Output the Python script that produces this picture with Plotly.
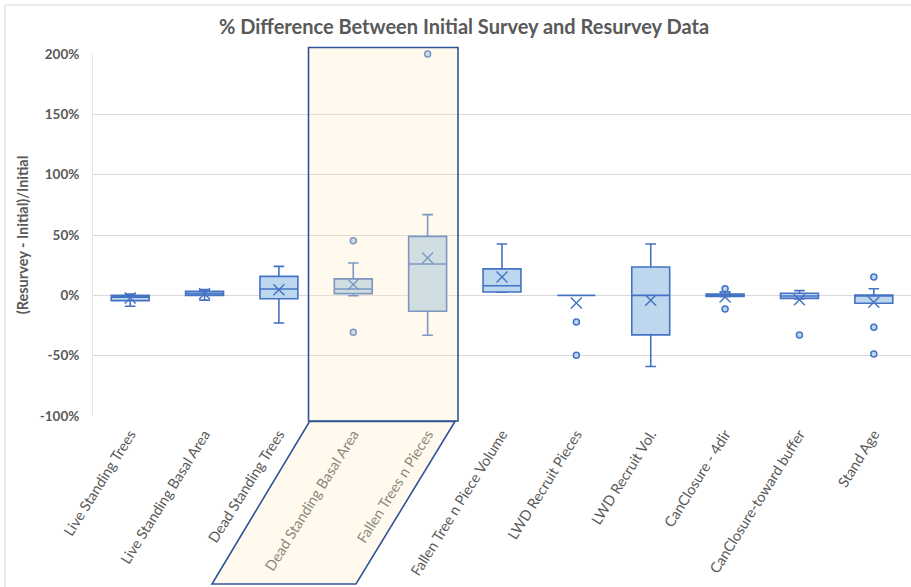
import plotly.graph_objects as go

# Survey metrics compared between the initial survey and the resurvey
categories = [
    "Live Standing Trees", "Live Standing Basal Area", "Dead Standing Trees",
    "Dead Standing Basal Area", "Fallen Trees n Pieces", "Fallen Tree n Piece Volume",
    "LWD Recruit Pieces", "LWD Recruit Vol.", "CanClosure - 4dir",
    "CanClosure-toward buffer", "Stand Age",
]

# Box statistics, percent difference (Resurvey - Initial)/Initial
lower_whisker = [-9.0, -4.0, -22.9, -0.3, -33.1, 2.5, 0.0, -59.0, -1.2, -3.0, -6.6]
q1_values     = [-4.4, 0.0, -2.8, 1.4, -13.2, 2.8, 0.0, -32.8, -1.0, -2.5, -6.6]
median_values = [-1.5, 1.5, 5.3, 5.3, 26.0, 8.0, 0.0, 0.0, 0.0, -0.5, 0.0]
q3_values     = [0.0, 3.3, 15.7, 13.6, 48.9, 21.9, 0.0, 23.5, 1.0, 1.7, 0.3]
upper_whisker = [1.0, 4.7, 24.0, 26.8, 66.9, 42.6, 0.0, 42.6, 2.8, 3.9, 5.5]
mean_values   = [-2.3, 1.4, 4.7, 8.9, 31.0, 15.2, -6.3, -4.1, -1.3, -3.6, -5.8]

# Points beyond the whiskers
outlier_categories = [
    "Dead Standing Basal Area", "Dead Standing Basal Area", "Fallen Trees n Pieces",
    "LWD Recruit Pieces", "LWD Recruit Pieces", "CanClosure - 4dir", "CanClosure - 4dir",
    "CanClosure-toward buffer", "Stand Age", "Stand Age", "Stand Age",
]
outlier_values = [45.3, -30.6, 200.0, -22.0, -49.7, 5.5, -11.3, -32.8, 15.2, -26.5, -48.6]

y_ticks = [-100, -50, 0, 50, 100, 150, 200]
y_tick_labels = ["<b>{}%</b>".format(v) for v in y_ticks]

BLUE = "#4472C4"
LIGHT_BLUE = "#BDD7EE"
DARK_BLUE = "#2F5597"
GREY_TEXT = "#595959"
GRID = "#D9D9D9"
FONT = "Lato, 'Open Sans', sans-serif"

W, H = 911, 587
M_L, M_R, M_T, M_B = 93, 0, 54, 171
PLOT_W = W - M_L - M_R
PLOT_H = H - M_T - M_B


def px_x(px):
    """Horizontal pixel position -> paper fraction."""
    return (px - M_L) / PLOT_W


def px_y(py):
    """Vertical pixel position (from top) -> paper fraction."""
    return (H - M_B - py) / PLOT_H


fig = go.Figure()

fig.add_trace(go.Box(
    x=categories,
    q1=q1_values, median=median_values, q3=q3_values,
    lowerfence=lower_whisker, upperfence=upper_whisker,
    fillcolor=LIGHT_BLUE,
    line=dict(color=BLUE, width=1.6),
    width=0.51,
    whiskerwidth=0.28,
    boxpoints=False,
    hoverinfo="skip",
    showlegend=False,
))

fig.add_trace(go.Scatter(
    x=categories, y=mean_values, mode="markers",
    marker=dict(symbol="x-thin-open", size=11, color=BLUE, line=dict(color=BLUE, width=1.4)),
    showlegend=False, hoverinfo="skip",
))

fig.add_trace(go.Scatter(
    x=outlier_categories, y=outlier_values, mode="markers",
    marker=dict(symbol="circle", size=6, color=LIGHT_BLUE, line=dict(color=BLUE, width=1.5)),
    cliponaxis=False, showlegend=False, hoverinfo="skip",
))

shapes = [
    # chart frame
    dict(type="rect", xref="paper", yref="paper", layer="below",
         x0=px_x(5), x1=px_x(W + 20), y0=px_y(H + 20), y1=px_y(5),
         line=dict(color=GRID, width=1), fillcolor="rgba(0,0,0,0)"),
    # highlight panel around the dead-standing / fallen-trees pair
    dict(type="rect", xref="paper", yref="paper", layer="above",
         x0=px_x(308.5), x1=px_x(458), y0=px_y(421), y1=px_y(47.5),
         line=dict(color=DARK_BLUE, width=1.6), fillcolor="rgba(255,238,195,0.30)"),
    dict(type="path", xref="paper", yref="paper", layer="above",
         path="M {a},{b} L {c},{b} L {d},{e} L {f},{e} Z".format(
             a=px_x(309.5), b=px_y(421.5), c=px_x(455), d=px_x(356), e=px_y(584), f=px_x(212)),
         line=dict(color=DARK_BLUE, width=1.6), fillcolor="rgba(255,238,195,0.30)"),
]

fig.update_layout(
    width=W, height=H,
    margin=dict(l=M_L, r=M_R, t=M_T, b=M_B),
    paper_bgcolor="white", plot_bgcolor="white",
    font=dict(family=FONT, color=GREY_TEXT),
    title=dict(
        text="<b>% Difference Between Initial Survey and Resurvey Data</b>",
        x=464 / W, xanchor="center", y=1 - 27 / H, yanchor="middle",
        font=dict(size=20, color=GREY_TEXT, family=FONT),
    ),
    xaxis=dict(
        type="category", categoryorder="array", categoryarray=categories,
        range=[-0.5, len(categories) - 0.5],
        tickangle=-58, tickfont=dict(size=14.5, color=GREY_TEXT, family=FONT),
        showgrid=False, showline=False, zeroline=False, ticks="",
        ticklabelstandoff=6,
    ),
    yaxis=dict(
        range=[-100, 200], tickvals=y_ticks, ticktext=y_tick_labels,
        tickfont=dict(size=13.5, color=GREY_TEXT, family=FONT),
        showgrid=True, gridcolor=GRID, gridwidth=1,
        zeroline=False, showline=True, linecolor="#E6E6E6", linewidth=1,
        ticks="", ticklabelstandoff=10,
        title=dict(text="<b>(Resurvey - Initial)/Initial</b>",
                   font=dict(size=14.5, color=GREY_TEXT, family=FONT), standoff=7),
    ),
    shapes=shapes,
)

fig.write_html("out.html")
